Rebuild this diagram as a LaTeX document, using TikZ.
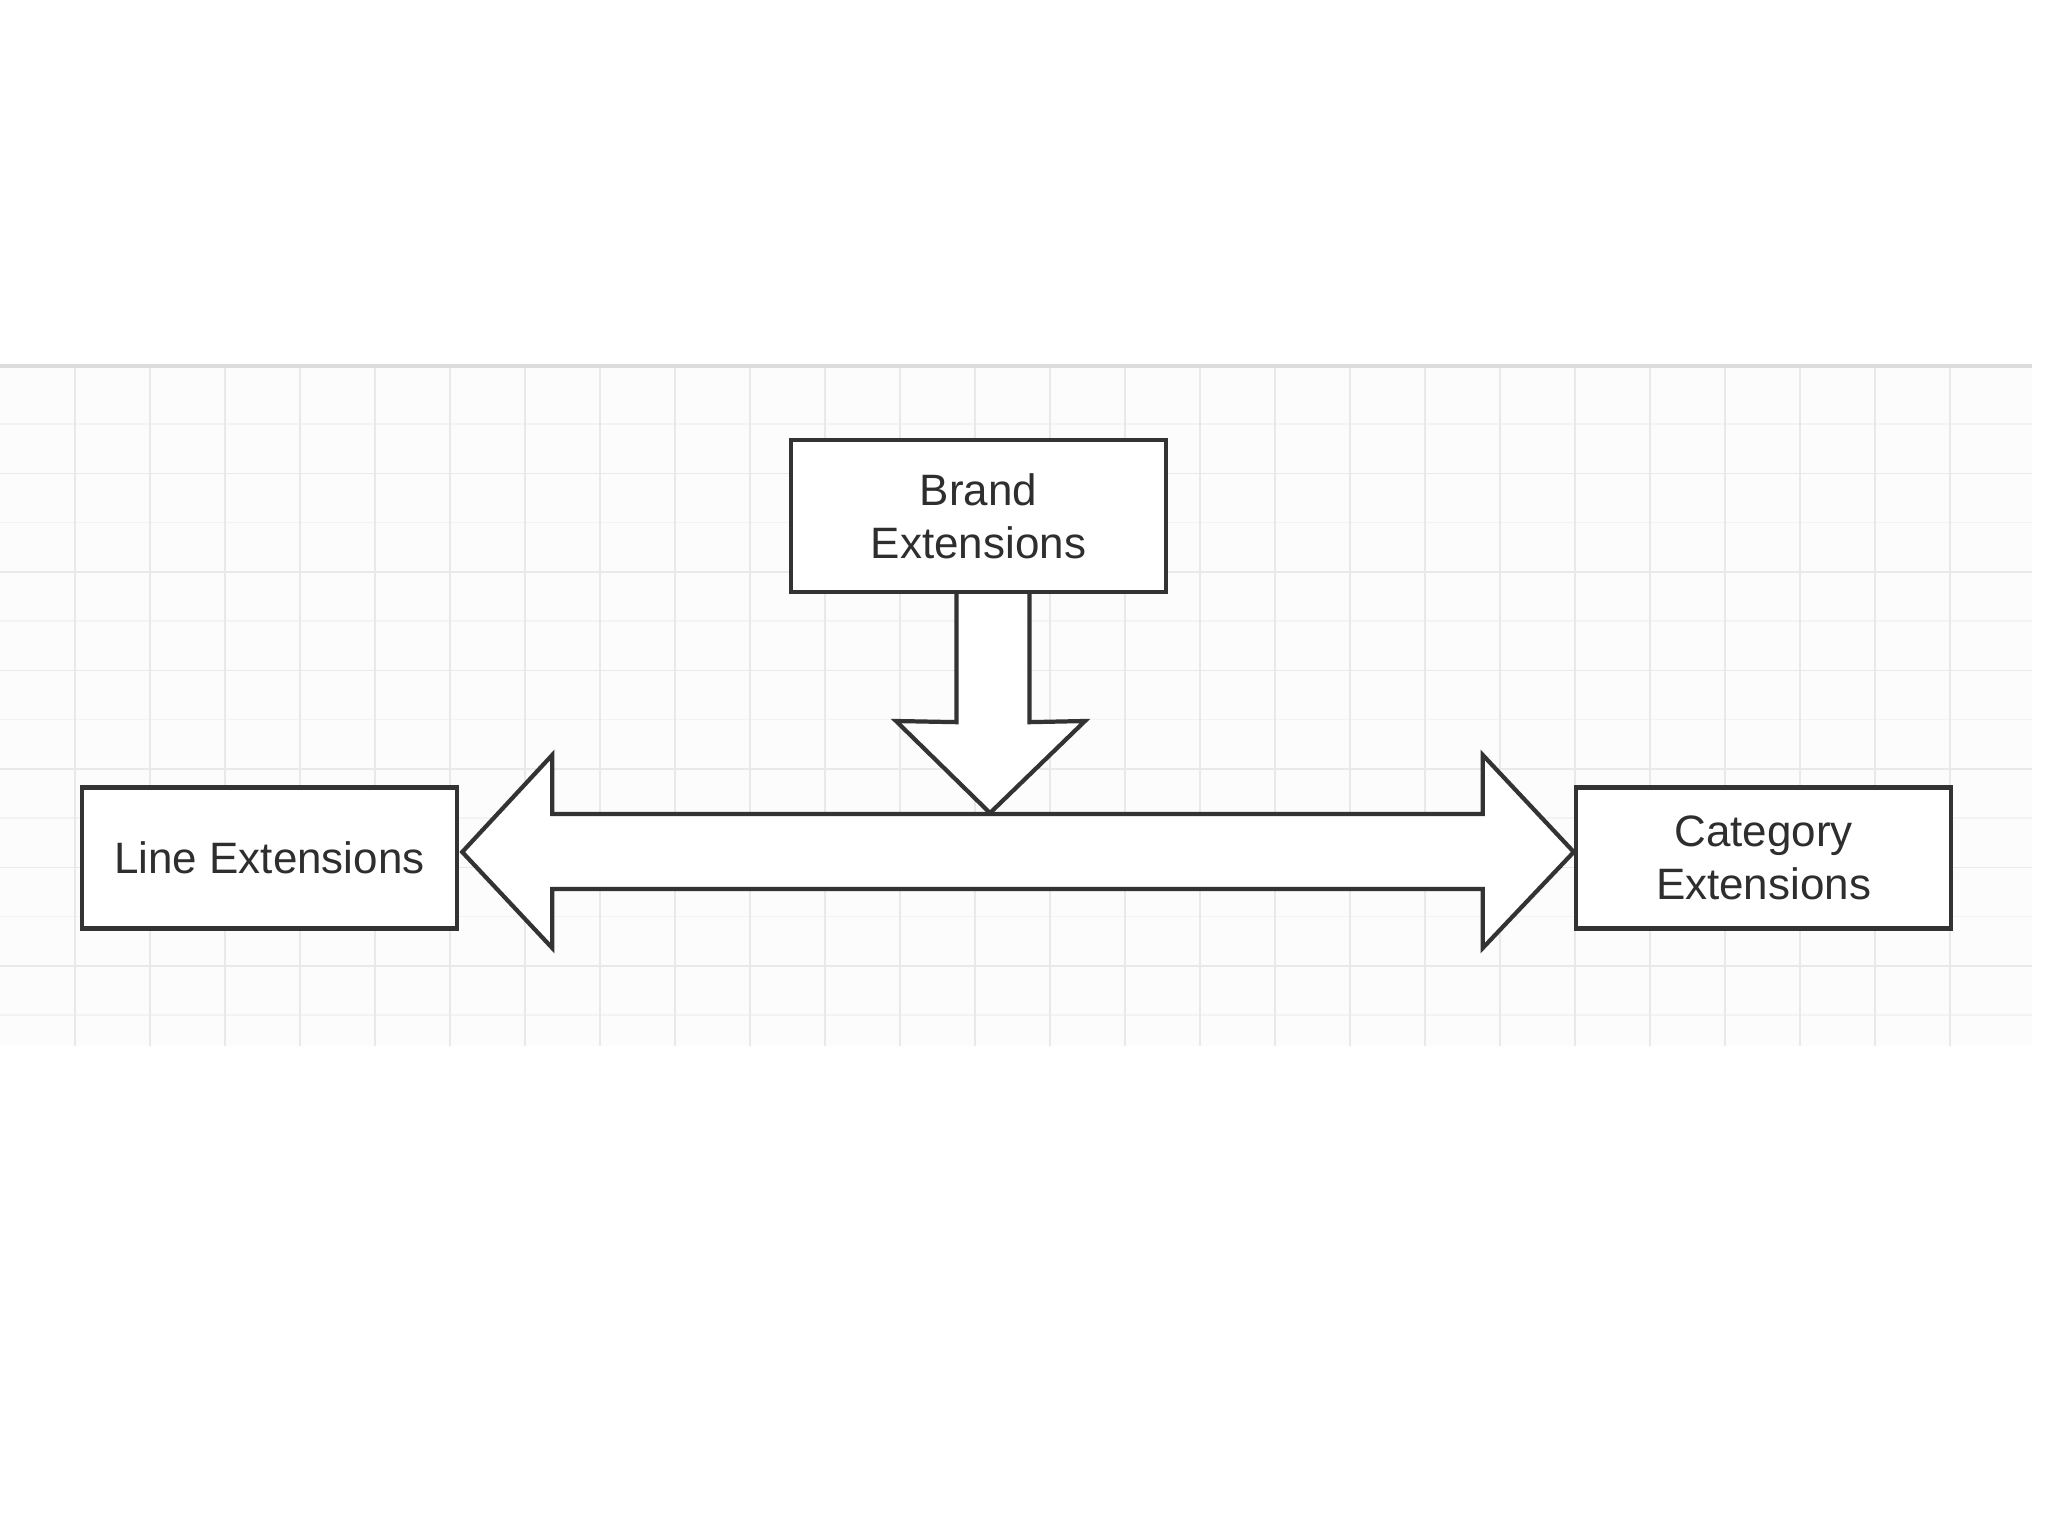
\documentclass[tikz,border=0pt]{standalone}
\usepackage{fontspec}
\setmainfont{Liberation Sans}
\usetikzlibrary{calc}
\definecolor{boxLine}{HTML}{333333}
\definecolor{gridMajor}{HTML}{E9E9E9}
\definecolor{gridMinor}{HTML}{F3F3F3}
\definecolor{gridBack}{HTML}{FCFCFC}
\definecolor{gridEdge}{HTML}{DCDCDC}

\begin{document}
\begin{tikzpicture}[x=0.01cm, y=-0.01cm,
  box/.style={draw=boxLine, line width=1.2pt, fill=white, minimum width=3.75cm, inner sep=0pt, align=center, text=black!82, font=\fontsize{12.5}{15}\selectfont},
  blockarrow/.style={draw=boxLine, line width=1.2pt, fill=white, line join=miter}]
  \useasboundingbox (0,0) rectangle (2048,1536);
  % (a) grid paper
  \fill[gridBack] (0,366) rectangle (2032,1046);
  \foreach \y in {424,522.5,...,1040} \draw[gridMinor, line width=0.4pt] (0,\y) -- (2032,\y);
  \foreach \y in {473.5,572,...,1040} \draw[gridMajor, line width=0.5pt] (0,\y) -- (2032,\y);
  \foreach \x in {75,150,...,2000} \draw[gridMajor, line width=0.5pt] (\x,366) -- (\x,1046);
  \draw[gridEdge, line width=1pt] (0,366) -- (2032,366);
  % (b) boxes
  \node[box, minimum height=1.52cm] (brand) at (978.5,516) {Brand\\Extensions};
  \node[box, minimum height=1.41cm] (line) at (269.5,858) {Line Extensions};
  \node[box, minimum height=1.41cm] (cat) at (1763.5,858) {Category\\Extensions};
  % (c) double arrow between line and category
  \coordinate (tipL) at ($(line.east)+(3,-6)$);
  \coordinate (tipR) at ($(cat.west)+(0,-6)$);
  \draw[blockarrow] (tipL) -- ++(90,-97) -- ++(0,59) -- ($(tipR)+(-91,-38)$) -- ++(0,-59) -- (tipR)
    -- ++(-91,96) -- ++(0,-59) -- ($(tipL)+(90,37)$) -- ++(0,59) -- cycle;
  % (d) down arrow from brand
  \coordinate (join) at (990,813);
  \draw[blockarrow] ($(brand.south)+(-22,0)$) -- ($(brand.south)+(-22,128)$) -- ($(join)+(-94,-92)$) -- (join)
    -- ($(join)+(95,-92)$) -- ($(brand.south)+(51,128)$) -- ($(brand.south)+(51,0)$);
\end{tikzpicture}
\end{document}
